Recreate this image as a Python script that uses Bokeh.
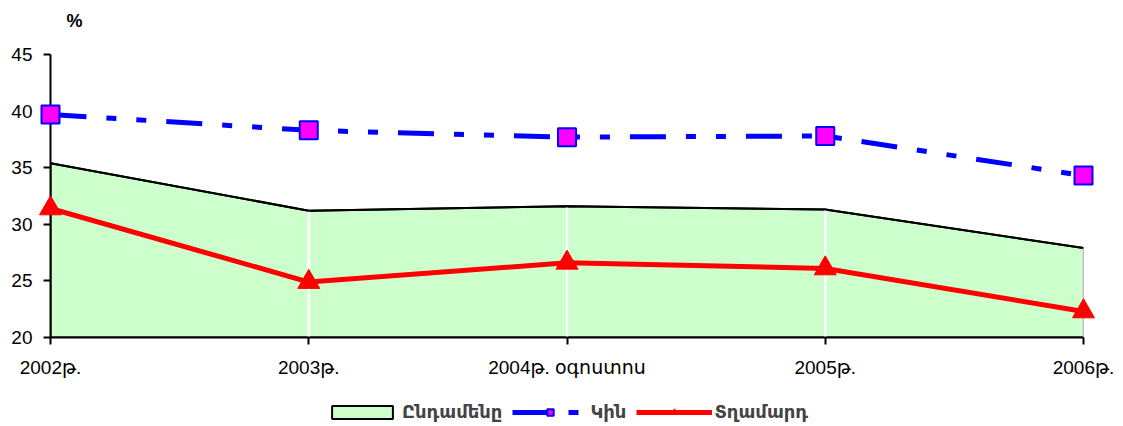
from bokeh.plotting import figure
from bokeh.layouts import column
from bokeh.models import Range1d, FixedTicker, Legend, LegendItem, ColumnDataSource, Label
from bokeh.embed import file_html
from bokeh.resources import INLINE

categories = ["2002թ.", "2003թ.", "2004թ. օգոստոս", "2005թ.", "2006թ."]
total = [35.4, 31.2, 31.6, 31.3, 27.9]     # Ընդամենը
female = [39.7, 38.3, 37.7, 37.8, 34.3]    # Կին
male = [31.4, 24.9, 26.6, 26.1, 22.3]      # Տղամարդ
y_ticks = [20, 25, 30, 35, 40, 45]
series_names = ["Ընդամենը", "Կին", "Տղամարդ"]
unit_label = "%"

xs = list(range(len(categories)))
base = y_ticks[0]

FONT = "Liberation Sans, Arial, DejaVu Sans"

AX_H = 283
PAD_TOP = 46
upp = (y_ticks[-1] - y_ticks[0]) / AX_H
y1 = y_ticks[-1] + PAD_TOP * upp


def add_series(fig):
    px = [xs[0]] + xs + [xs[-1]]
    py = [base] + total + [base]
    area = fig.patch(px, py, fill_color="#CCFFCC", line_color="black", line_width=2)
    fl = fig.line(xs, female, line_color="#0000FF", line_width=5, line_dash="36 20 10 20 10 20")
    fm = fig.scatter(xs, female, marker="square", size=18, fill_color="#FF00FF",
                     line_color="#0000FF", line_width=2, level="overlay")
    ml = fig.line(xs, male, line_color="#FF0000", line_width=5)
    mm = fig.scatter(xs, male, marker="triangle", size=22, fill_color="#FF0000",
                     line_color="#FF0000", level="overlay")
    return area, fl, fm, ml, mm


p = figure(width=1115, height=380, output_backend="svg", toolbar_location=None,
           x_range=Range1d(xs[0], xs[-1]), y_range=Range1d(y_ticks[0], y1),
           min_border_left=50, min_border_right=32, min_border_top=8,
           min_border_bottom=43)
p.outline_line_color = None
p.grid.grid_line_color = None

px = [xs[0]] + xs + [xs[-1]]
py = [base] + total + [base]
p.patch(px, py, fill_color="#CCFFCC", line_color="black", line_width=2)
src_drop = ColumnDataSource(dict(x=xs[1:], y0=[base] * (len(xs) - 1), y1=total[1:]))
p.segment(x0="x", y0="y0", x1="x", y1="y1", source=src_drop, line_color="white", line_width=2.5)
p.line(xs, total, line_color="black", line_width=2)
p.line(xs, female, line_color="#0000FF", line_width=5, line_dash="36 20 10 20 10 20")
p.scatter(xs, female, marker="square", size=18, fill_color="#FF00FF",
          line_color="#0000FF", line_width=2, level="overlay")
p.line(xs, male, line_color="#FF0000", line_width=5)
p.scatter(xs, male, marker="triangle", size=22, fill_color="#FF0000",
          line_color="#FF0000", level="overlay")

p.xaxis.ticker = FixedTicker(ticks=xs)
p.xaxis.major_label_overrides = {i: c for i, c in enumerate(categories)}
p.yaxis.ticker = FixedTicker(ticks=y_ticks)
p.yaxis.bounds = (y_ticks[0], y_ticks[-1])
for ax in (p.xaxis[0], p.yaxis[0]):
    ax.axis_line_color = "black"
    ax.axis_line_width = 2
    ax.major_tick_line_color = "black"
    ax.major_tick_line_width = 2
    ax.major_tick_out = 7
    ax.major_tick_in = 0
    ax.minor_tick_line_color = None
    ax.major_label_text_font = FONT
    ax.major_label_text_font_size = "19px"
    ax.major_label_text_color = "black"
p.xaxis.major_label_standoff = 12
p.yaxis.major_label_standoff = 11

p.add_layout(Label(x=xs[0], y=y_ticks[-1], text=unit_label, x_offset=16, y_offset=34,
                   text_font=FONT, text_font_size="18px", text_font_style="bold",
                   text_baseline="alphabetic", text_color="black"))

# legend strip: its own figure whose view excludes the data, so only the legend shows
p2 = figure(width=1115, height=46, output_backend="svg", toolbar_location=None,
            x_range=Range1d(-20, -10), y_range=Range1d(-20, -10),
            x_axis_location=None, y_axis_location=None,
            min_border_left=0, min_border_right=0, min_border_top=0, min_border_bottom=0)
p2.outline_line_color = None
p2.grid.grid_line_color = None
area, f_line, f_mark, m_line, m_mark = add_series(p2)

legend = Legend(items=[
    LegendItem(label=series_names[0], renderers=[area]),
    LegendItem(label=series_names[1], renderers=[f_line, f_mark]),
    LegendItem(label=series_names[2], renderers=[m_line, m_mark]),
], orientation="horizontal", location=(274, 3))
legend.label_text_font = FONT
legend.label_text_font_size = "18px"
legend.label_text_font_style = "bold"
legend.glyph_width = 76
legend.glyph_height = 16
legend.spacing = 10
legend.label_standoff = 2
legend.border_line_color = None
legend.background_fill_alpha = 0
legend.padding = 0
legend.margin = 0
p2.add_layout(legend)

layout = column(p, p2, spacing=0)
open("out.html", "w").write(file_html(layout, INLINE))
